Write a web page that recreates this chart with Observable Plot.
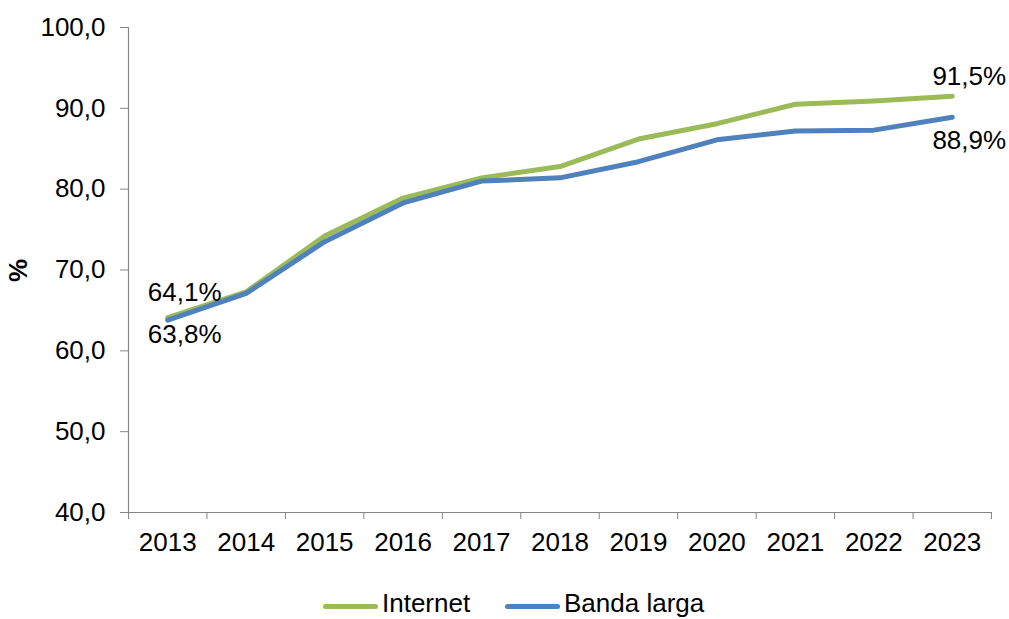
<!DOCTYPE html>
<html>
<head>
<meta charset="utf-8">
<script src="https://cdn.jsdelivr.net/npm/d3@7"></script>
<script src="https://cdn.jsdelivr.net/npm/@observablehq/plot@0.6"></script>
<style>
  body { margin: 0; background: white; font-family: "Liberation Sans", Arial, sans-serif; }
  #wrap { position: relative; width: 1009px; height: 619px; overflow: hidden; }
  #legend { position: absolute; left: 0; top: 590px; width: 1009px; height: 27px; font-size: 26px; line-height: 26px; color: black; }
  .item { position: absolute; top: 0; display: flex; align-items: flex-start; height: 26px; }
  .sw { width: 55px; height: 5px; border-radius: 3px; margin-right: 4px; margin-top: 14px; }
</style>
</head>
<body>
<div id="wrap">
  <div id="chart"></div>
  <div id="legend"></div>
</div>
<script>
const years = [2013, 2014, 2015, 2016, 2017, 2018, 2019, 2020, 2021, 2022, 2023];
const internet = [64.1, 67.3, 74.2, 78.9, 81.4, 82.8, 86.2, 88.1, 90.5, 90.9, 91.5];
const bandaLarga = [63.8, 67.1, 73.5, 78.3, 81.0, 81.4, 83.4, 86.1, 87.2, 87.3, 88.9];
const seriesNames = ["Internet", "Banda larga"];
const colors = ["#9BBB59", "#4F81BD"];
const yTicks = [40, 50, 60, 70, 80, 90, 100];
const yLabel = "%";

const rows = [];
years.forEach((y, i) => {
  rows.push({year: y, value: internet[i], series: seriesNames[0]});
  rows.push({year: y, value: bandaLarga[i], series: seriesNames[1]});
});
const bounds = years.map(y => y - 0.5).concat([years[years.length - 1] + 0.5]);
const fmt = v => v.toFixed(1).replace(".", ",");
const pct = v => fmt(v) + "%";
const first = 0, last = years.length - 1;
const FS = 26;

const chart = Plot.plot({
  width: 1009,
  height: 560,
  marginLeft: 128,
  marginRight: 18,
  marginTop: 27,
  marginBottom: 48,
  style: {fontFamily: "'Liberation Sans', Arial, sans-serif", fontSize: FS + "px", color: "black", background: "white", overflow: "visible"},
  x: {domain: [bounds[0], bounds[bounds.length - 1]], axis: null},
  y: {domain: [40, 100], axis: null},
  color: {domain: seriesNames, range: colors},
  marks: [
    Plot.axisY({ticks: yTicks, tickSize: 8, tickPadding: 15, tickFormat: fmt, stroke: "#868686", fill: "black", fontSize: FS, label: null}),
    Plot.axisX({ticks: bounds, tickSize: 7, tickFormat: () => "", stroke: "#868686", label: null}),
    Plot.axisX({ticks: years, tickSize: 0, tickPadding: 20, tickFormat: d => String(d), fill: "black", fontSize: FS, label: null}),
    Plot.ruleX([bounds[0]], {stroke: "#868686", strokeWidth: 1.2}),
    Plot.ruleY([40], {stroke: "#868686", strokeWidth: 1.2}),
    Plot.text([yLabel], {frameAnchor: "left", dx: -110, dy: 12, rotate: -90, fontWeight: "bold", fontSize: FS, fill: "black"}),
    Plot.line(rows, {x: "year", y: "value", z: "series", stroke: "series", strokeWidth: 5, strokeLinecap: "round", strokeLinejoin: "round"}),
    Plot.text([{year: years[first], value: internet[first]}], {x: "year", y: "value", text: d => pct(d.value), dx: 17, dy: -25, fontSize: FS, fill: "black"}),
    Plot.text([{year: years[first], value: bandaLarga[first]}], {x: "year", y: "value", text: d => pct(d.value), dx: 17, dy: 15, fontSize: FS, fill: "black"}),
    Plot.text([{year: years[last], value: internet[last]}], {x: "year", y: "value", text: d => pct(d.value), dx: 17, dy: -20, fontSize: FS, fill: "black"}),
    Plot.text([{year: years[last], value: bandaLarga[last]}], {x: "year", y: "value", text: d => pct(d.value), dx: 17, dy: 23, fontSize: FS, fill: "black"})
  ]
});
document.getElementById("chart").appendChild(chart);

const legend = document.getElementById("legend");
const lefts = [323, 505];
seriesNames.forEach((n, i) => {
  const it = document.createElement("div");
  it.className = "item";
  it.style.left = lefts[i] + "px";
  it.innerHTML = `<div class="sw" style="background:${colors[i]}"></div><span>${n}</span>`;
  legend.appendChild(it);
});
</script>
</body>
</html>
